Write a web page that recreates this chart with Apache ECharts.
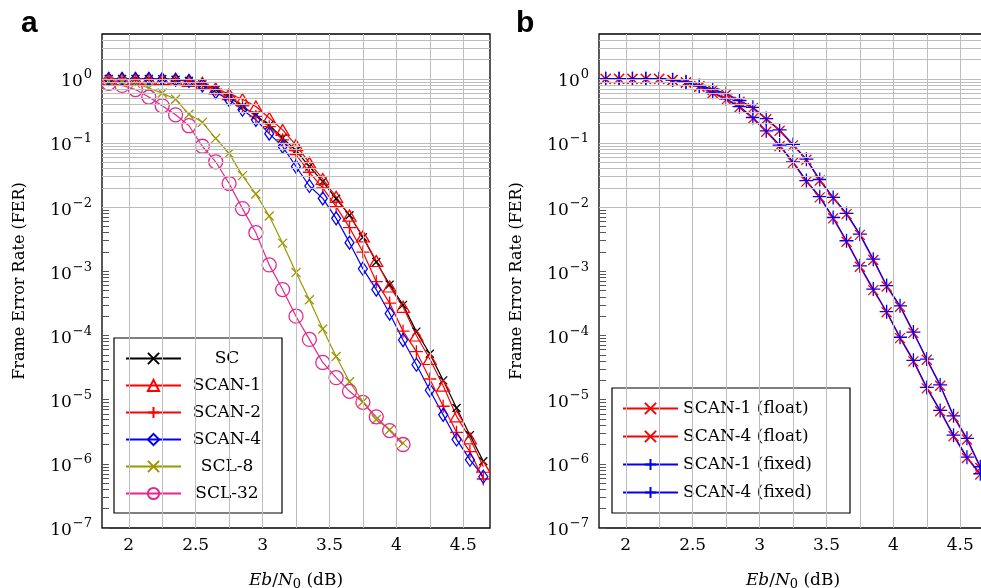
<!DOCTYPE html>
<html><head><meta charset="utf-8">
<script src="https://cdn.jsdelivr.net/npm/echarts@6/dist/echarts.min.js"></script>
<style>html,body{margin:0;padding:0;background:#fff}#c{width:981px;height:588px}</style>
</head><body><div id="c"></div>
<script>
// ---------- data ----------
const ebn0 = [1.85,1.95,2.05,2.15,2.25,2.35,2.45,2.55,2.65,2.75,2.85,2.95,3.05,3.15,3.25,3.35,3.45,3.55,3.65,3.75,3.85,3.95,4.05,4.15,4.25,4.35,4.45,4.55,4.65];
const ebn0Scl = [1.85,1.95,2.05,2.15,2.25,2.35,2.45,2.55,2.65,2.75,2.85,2.95,3.05,3.15,3.25,3.35,3.45,3.55,3.65,3.75,3.85,3.95,4.05];
const xTickLabels = [2,2.5,3,3.5,4,4.5];
const xGridValues = [2,2.25,2.5,2.75,3,3.25,3.5,3.75,4,4.25,4.5];
const yTickLabels = [1e-7,1e-6,1e-5,1e-4,1e-3,1e-2,1e-1,1];

// panel a
const ferSC    = [1,1,1,1,0.99,0.97,0.93,0.82,0.68,0.52,0.37,0.27,0.19,0.12,0.076,0.043,0.025,0.0135,0.0075,0.0034,0.0014,6.2e-4,3.0e-4,1.15e-4,5.2e-5,2.0e-5,7.4e-6,2.8e-6,1.1e-6];
const ferSCAN1 = [1,1,1,1,0.99,0.97,0.93,0.87,0.71,0.58,0.48,0.37,0.245,0.16,0.093,0.049,0.0275,0.0145,0.0074,0.0035,0.00145,5.8e-4,2.8e-4,1.0e-4,4.3e-5,1.65e-5,5.5e-6,2.5e-6,9.0e-7];
const ferSCAN2 = [1,1,1,1,0.99,0.97,0.93,0.83,0.69,0.54,0.38,0.26,0.18,0.112,0.066,0.035,0.02,0.0102,0.0048,0.002,6.9e-4,3.2e-4,1.17e-4,5.6e-5,2.1e-5,7.9e-6,3.1e-6,1.55e-6,5.8e-7];
const ferSCAN4 = [1,1,1,1,0.99,0.97,0.93,0.79,0.62,0.47,0.33,0.23,0.14,0.088,0.043,0.0214,0.0137,0.0067,0.0028,0.0011,5.2e-4,2.2e-4,8.5e-5,3.5e-5,1.4e-5,5.8e-6,2.4e-6,1.16e-6,6.3e-7];
const ferSCL8  = [0.92,0.9,0.85,0.72,0.6,0.48,0.28,0.21,0.118,0.069,0.031,0.016,0.0073,0.00275,9.6e-4,3.6e-4,1.26e-4,4.7e-5,1.9e-5,9.3e-6,4.9e-6,3.4e-6,2.1e-6];
const ferSCL32 = [0.85,0.79,0.68,0.52,0.38,0.275,0.186,0.089,0.051,0.0234,0.0095,0.004,0.00126,5.2e-4,2.0e-4,8.7e-5,3.8e-5,2.2e-5,1.35e-5,9.1e-6,5.4e-6,3.3e-6,2.0e-6];

// panel b
const ferSCAN1Float = [1,1,1,1,1,0.96,0.89,0.77,0.67,0.57,0.44,0.35,0.235,0.155,0.092,0.055,0.026,0.0138,0.0078,0.0037,0.0015,5.8e-4,2.8e-4,1.1e-4,4.2e-5,1.65e-5,5.4e-6,2.4e-6,8.6e-7];
const ferSCAN4Float = [1,1,1,1,1,0.95,0.87,0.75,0.6,0.47,0.36,0.24,0.15,0.09,0.049,0.025,0.0142,0.0067,0.0029,0.00118,5.1e-4,2.3e-4,9.1e-5,3.95e-5,1.5e-5,6.6e-6,2.7e-6,1.23e-6,6.8e-7];
const ferSCAN1Fixed = [1,1,1,1,1,0.97,0.9,0.79,0.69,0.59,0.46,0.36,0.24,0.16,0.095,0.056,0.027,0.0142,0.008,0.0038,0.00155,6.0e-4,2.9e-4,1.13e-4,4.3e-5,1.7e-5,5.6e-6,2.5e-6,9.0e-7];
const ferSCAN4Fixed = [1,1,1,1,1,0.96,0.88,0.77,0.62,0.49,0.37,0.25,0.155,0.093,0.051,0.026,0.0146,0.0069,0.003,0.00122,5.3e-4,2.35e-4,9.4e-5,4.1e-5,1.55e-5,6.8e-6,2.8e-6,1.27e-6,7.0e-7];

// ---------- helpers ----------
const FONT = 'DejaVu Serif';
const yGridValues = [];
for (let k = -7; k <= 0; k++) for (let m = 1; m <= 9; m++) { const v = m * Math.pow(10, k); if (v < 5) yGridValues.push(+v.toPrecision(3)); }
const zip = (xs, ys) => xs.map((x, i) => [x, ys[i]]);
const CROSS = 'path://M0,0L10,10M0,10L10,0';
const PLUS = 'path://M5,0L5,10M0,5L10,5';
const OLIVE = '#9c9600', PINK = '#e6288c';

function gridSeries(i) {
  return {
    type: 'line', xAxisIndex: i, yAxisIndex: i, data: [], z: 1, silent: true,
    markLine: {
      silent: true, symbol: ['none', 'none'], label: { show: false }, animation: false,
      lineStyle: { color: '#bdbdbd', width: 1, type: 'solid' },
      emphasis: { disabled: true },
      data: xGridValues.map(v => ({ xAxis: v })).concat(yGridValues.map(v => ({ yAxis: v })))
    }
  };
}
function ser(name, i, xs, ys, color, symbol, size) {
  return {
    name, type: 'line', xAxisIndex: i, yAxisIndex: i, data: zip(xs, ys), z: 3,
    symbol, symbolSize: size, showAllSymbol: true,
    lineStyle: { color, width: 1.2 },
    itemStyle: { color: 'transparent', borderColor: color, borderWidth: 1.3 },
    emphasis: { disabled: true }
  };
}
function xAxis(i) {
  return {
    gridIndex: i, type: 'value', min: 1.8, max: 4.7,
    splitLine: { show: false }, axisLine: { show: false }, axisTick: { show: false },
    axisLabel: { customValues: xTickLabels, fontFamily: FONT, fontSize: 17, color: '#000', margin: 9 },
    name: '{i|Eb}{n|/}{i|N}{sub|0}{n| (dB)}', nameLocation: 'middle', nameGap: 42,
    nameTextStyle: { rich: {
      i: { fontFamily: FONT, fontStyle: 'italic', fontSize: 17, color: '#000' },
      n: { fontFamily: FONT, fontSize: 17, color: '#000' },
      sub: { fontFamily: FONT, fontSize: 13, color: '#000', padding: [8, 0, 0, 0] }
    } }
  };
}
function yAxis(i) {
  return {
    gridIndex: i, type: 'log', logBase: 10, min: 1e-7, max: 5,
    splitLine: { show: false }, axisLine: { show: false },
    axisTick: { show: true, inside: true, length: 7, customValues: yGridValues, lineStyle: { color: '#555', width: 1 } },
    axisLabel: {
      customValues: yTickLabels, margin: 10,
      formatter: v => { const e = Math.round(Math.log10(v)); return '{b|10}{s|' + (e < 0 ? '\u2212' + (-e) : e) + '}'; },
      rich: {
        b: { fontFamily: FONT, fontSize: 17, color: '#000', padding: [6, 0, 0, 0] },
        s: { fontFamily: FONT, fontSize: 13, color: '#000', padding: [0, 0, 8, 1] }
      }
    },
    name: 'Frame Error Rate (FER)', nameLocation: 'middle', nameGap: 74,
    nameTextStyle: { fontFamily: FONT, fontSize: 16, color: '#000' }
  };
}
const legendBase = {
  orient: 'vertical', itemWidth: 55, itemHeight: 14,
  borderColor: '#000', borderWidth: 1.2, backgroundColor: '#fff', borderRadius: 0,
  selectedMode: false, formatter: '{c|{name}}'
};
const gridBase = { top: 34, width: 388, height: 494, show: true, borderColor: '#000', borderWidth: 1.3, backgroundColor: 'transparent', containLabel: false, outerBoundsMode: 'none' };

const option = {
  animation: false,
  backgroundColor: '#fff',
  grid: [
    Object.assign({ left: 102 }, gridBase),
    Object.assign({ left: 599 }, gridBase)
  ],
  xAxis: [xAxis(0), xAxis(1)],
  yAxis: [yAxis(0), yAxis(1)],
  legend: [
    Object.assign({}, legendBase, {
      left: 114, top: 338, padding: [12, 14, 11, 11], itemGap: 10,
      data: ['SC', 'SCAN-1', 'SCAN-2', 'SCAN-4', 'SCL-8', 'SCL-32'],
      textStyle: { rich: { c: { fontFamily: FONT, fontSize: 17, color: '#000', width: 82, lineHeight: 14, align: 'center' } } }
    }),
    Object.assign({}, legendBase, {
      left: 612, top: 388, padding: [12, 14, 12, 10], itemGap: 11,
      data: ['SCAN-1 (float)', 'SCAN-4 (float)', 'SCAN-1 (fixed)', 'SCAN-4 (fixed)'],
      textStyle: { rich: { c: { fontFamily: FONT, fontSize: 17, color: '#000', width: 153, lineHeight: 14, align: 'left' } } }
    })
  ],
  graphic: [
    { type: 'text', left: 21, top: 9, style: { text: 'a', fill: '#000', font: 'bold 30px "Liberation Sans"' } },
    { type: 'text', left: 516, top: 9, style: { text: 'b', fill: '#000', font: 'bold 30px "Liberation Sans"' } }
  ],
  series: [
    gridSeries(0), gridSeries(1),
    ser('SC', 0, ebn0, ferSC, '#000', CROSS, 8),
    ser('SCAN-1', 0, ebn0, ferSCAN1, '#ff0000', 'triangle', [13, 11]),
    ser('SCAN-2', 0, ebn0, ferSCAN2, '#ff0000', PLUS, 13),
    ser('SCAN-4', 0, ebn0, ferSCAN4, '#0000ff', 'diamond', [9, 13]),
    ser('SCL-8', 0, ebn0Scl, ferSCL8, OLIVE, CROSS, 9),
    ser('SCL-32', 0, ebn0Scl, ferSCL32, PINK, 'circle', 14),
    ser('SCAN-1 (float)', 1, ebn0, ferSCAN1Float, '#ff0000', CROSS, 10),
    ser('SCAN-4 (float)', 1, ebn0, ferSCAN4Float, '#ff0000', CROSS, 10),
    ser('SCAN-1 (fixed)', 1, ebn0, ferSCAN1Fixed, '#0000ff', PLUS, 14),
    ser('SCAN-4 (fixed)', 1, ebn0, ferSCAN4Fixed, '#0000ff', PLUS, 14)
  ]
};
const chart = echarts.init(document.getElementById('c'), null, { renderer: 'canvas' });
chart.setOption(option);
</script></body></html>
